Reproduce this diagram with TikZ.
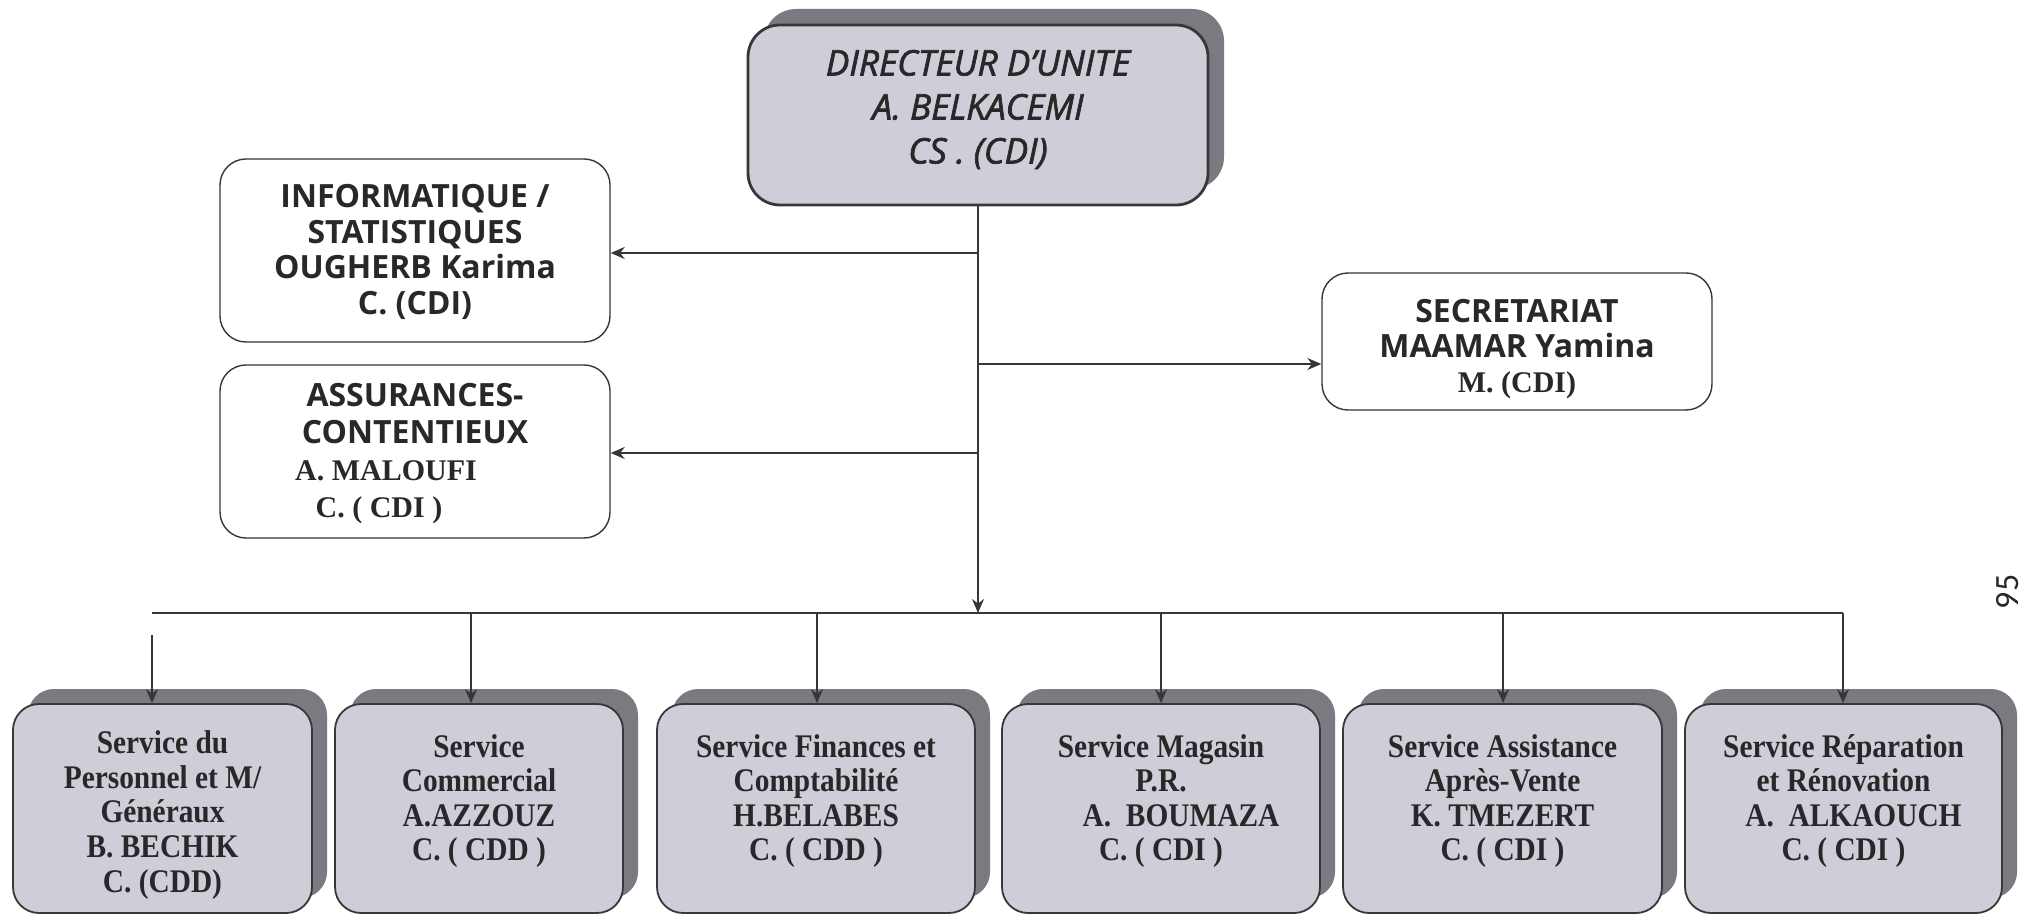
\documentclass[tikz,border=0pt]{standalone}
\usepackage{fontspec}
\setmainfont{Liberation Serif}
\newfontfamily\dirfont[FakeBold=2]{Open Sans}
\newfontfamily\headfont{Open Sans}
\newfontfamily\svcfont[FakeStretch=0.89]{Liberation Serif}
\newfontfamily\pagefont{Carlito}
\usetikzlibrary{positioning, arrows.meta, shadows, shapes}
\definecolor{boxfill}{RGB}{206,206,216}
\definecolor{boxshadow}{RGB}{122,122,128}
\definecolor{inkline}{RGB}{55,55,55}
\definecolor{inktext}{RGB}{40,40,40}
\tikzstyle{arrow} = [draw=inkline, line width=0.7pt, -{Stealth[length=7pt,width=6pt]}]
\tikzstyle{line} = [draw=inkline, line width=0.7pt]
\tikzstyle{director} = [rectangle, rounded corners=16pt, draw=inkline, line width=1.4pt, fill=boxfill, general shadow={fill=boxshadow, draw=none, shadow xshift=8pt, shadow yshift=8pt}, minimum width=230pt, minimum height=90pt, align=center, text=inktext, font=\dirfont\itshape\fontsize{17.6}{22}\selectfont]
\tikzstyle{staff} = [rectangle, rounded corners=13pt, draw=inkline, line width=0.7pt, fill=white, minimum width=195pt, align=center, text=inktext, font=\headfont\bfseries\fontsize{16}{17.7}\selectfont]
\tikzstyle{service} = [rectangle, rounded corners=13pt, draw=inkline, line width=0.9pt, fill=boxfill, general shadow={fill=boxshadow, draw=none, shadow xshift=7.5pt, shadow yshift=7.5pt}, minimum height=104.5pt, align=center, text=inktext, font=\svcfont\bfseries\fontsize{16.5}{17.3}\selectfont]
\newcommand{\timesbold}{\rmfamily\bfseries\fontsize{15}{17}\selectfont}
\newcommand{\topgap}[1]{\rule{0pt}{#1}}
\newcommand{\lowgap}[1]{\rule[-#1]{0pt}{0pt}}

\begin{document}
\begin{tikzpicture}[x=0.5pt, y=-0.5pt]
    \path [use as bounding box, fill=white] (0,0) rectangle (2028,919);

    % direction
    \node (dir) [director] at (978,115) {DIRECTEUR D’UNITE\\A. BELKACEMI\\CS . (CDI)\lowgap{8.3pt}};

    % staff
    \node (info) [staff, minimum height=91.5pt] at (415,250.5) {\topgap{13pt}INFORMATIQUE /\\STATISTIQUES\\OUGHERB Karima\\C. (CDI)};
    \node (assur) [staff, minimum height=86.5pt, font=\headfont\bfseries\fontsize{16}{18.5}\selectfont] at (415,451.5) {\topgap{14pt}ASSURANCES-\\CONTENTIEUX\\{\timesbold A. MALOUFI\kern29pt}\\{\timesbold C. ( CDI )\kern36pt}};
    \node (secr) [staff, minimum height=68.5pt, font=\headfont\bfseries\fontsize{16}{17.5}\selectfont] at (1517,341.5) {\topgap{19.4pt}SECRETARIAT\\MAAMAR Yamina\\{\rmfamily\bfseries\fontsize{15}{17.5}\selectfont M. (CDI)}};

    % services
    \node (s1) [service, minimum width=149.5pt] at (162.5,808.5) {\topgap{18pt}Service du\\Personnel et M/\\Généraux\\B. BECHIK\\C. (CDD)};
    \node (s2) [service, minimum width=144pt] at (479,808.5) {\topgap{18pt}Service\\Commercial\\A.AZZOUZ\\C. ( CDD )\\\phantom{C}};
    \node (s3) [service, minimum width=159pt] at (816,808.5) {\topgap{18pt}Service Finances et\\Comptabilité\\H.BELABES\\C. ( CDD )\\\phantom{C}};
    \node (s4) [service, minimum width=159pt] at (1161,808.5) {\topgap{18pt}Service Magasin\\P.R.\\\hspace*{20pt}A.\ \ BOUMAZA\\C. ( CDI )\\\phantom{C}};
    \node (s5) [service, minimum width=159.5pt] at (1502.5,808.5) {\topgap{18pt}Service Assistance\\Après-Vente\\K. TMEZERT\\C. ( CDI )\\\phantom{C}};
    \node (s6) [service, minimum width=158.5pt] at (1843.5,808.5) {\topgap{18pt}Service Réparation\\et Rénovation\\\hspace*{10pt}A.\ \ ALKAOUCH\\C. ( CDI )\\\phantom{C}};

    % page number
    \node (page) [rotate=90, text=inktext, font=\pagefont\fontsize{17}{17}\selectfont] at (2008,592) {95};

    % junctions
    \coordinate (j1) at (978,253);
    \coordinate (j2) at (978,364);
    \coordinate (j3) at (978,453);
    \coordinate (bus) at (978,613);
    \coordinate (bl) at (152,613);
    \coordinate (d1) at (152,635);
    \coordinate (d2) at (471,613);
    \coordinate (d3) at (817,613);
    \coordinate (d4) at (1161,613);
    \coordinate (d5) at (1503,613);
    \coordinate (d6) at (1843,613);

    \draw [arrow] (dir.south) -- (bus);
    \draw [arrow] (j1) -- (j1 -| info.east);
    \draw [arrow] (j3) -- (j3 -| assur.east);
    \draw [arrow] (j2) -- (j2 -| secr.west);
    \draw [line] (bl) -- (d6);
    \foreach \i in {1,...,6}
        \draw [arrow] (d\i) -- (d\i |- s\i.north);
\end{tikzpicture}
\end{document}
